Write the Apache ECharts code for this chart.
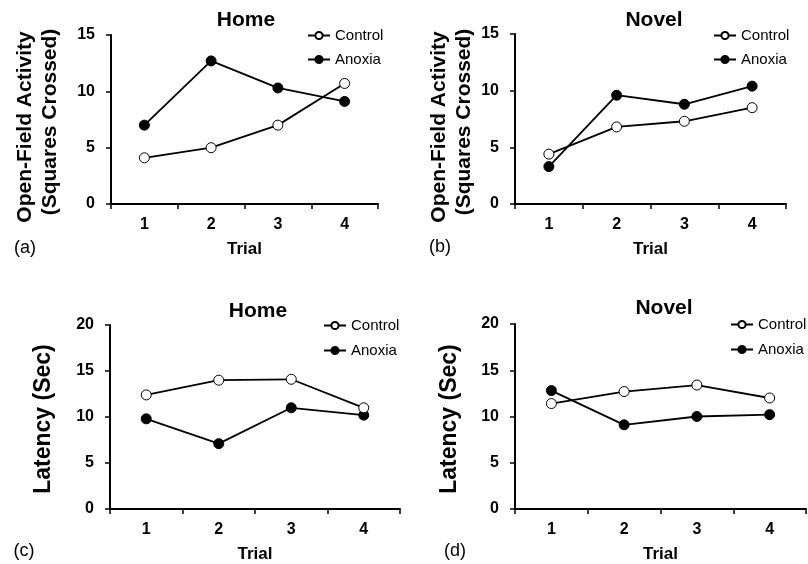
<!DOCTYPE html>
<html>
<head>
<meta charset="utf-8">
<script src="https://cdn.jsdelivr.net/npm/echarts@6/dist/echarts.min.js"></script>
<style>
html,body{margin:0;padding:0;background:#fff;}
#chart{width:808px;height:564px;}
</style>
</head>
<body>
<div id="chart"></div>
<script>
// ---- data ----
var trials = ['1', '2', '3', '4'];
var seriesNames = ['Control', 'Anoxia'];
var homeActivityControl = [4.1, 5.0, 7.0, 10.7];
var homeActivityAnoxia = [7.0, 12.7, 10.3, 9.1];
var novelActivityControl = [4.4, 6.8, 7.3, 8.5];
var novelActivityAnoxia = [3.3, 9.6, 8.8, 10.4];
var homeLatencyControl = [12.4, 14.0, 14.1, 11.0];
var homeLatencyAnoxia = [9.8, 7.1, 11.0, 10.2];
var novelLatencyControl = [11.4, 12.7, 13.4, 12.0];
var novelLatencyAnoxia = [12.8, 9.1, 10.0, 10.2];
var activityAxis = {min: 0, max: 15, interval: 5};
var latencyAxis = {min: 0, max: 20, interval: 5};
var panelTitles = ['Home', 'Novel', 'Home', 'Novel'];
var panelLetters = ['(a)', '(b)', '(c)', '(d)'];
var activityName = ['Open-Field Activity', '(Squares Crossed)'];
var latencyName = 'Latency (Sec)';
var xName = 'Trial';

// ---- layout / style ----
var FONT = '"Liberation Sans", Arial, Helvetica, sans-serif';
var grids = [
  {left: 111, top: 35, width: 267, height: 169},
  {left: 515, top: 34, width: 271, height: 170},
  {left: 110, top: 325, width: 290, height: 184},
  {left: 515, top: 324, width: 291, height: 185}
];
var legendPos = [
  {left: 307, top: 28, gap: 9},
  {left: 713, top: 28, gap: 9},
  {left: 323, top: 318, gap: 10},
  {left: 730, top: 317, gap: 10}
];
var panelData = [
  [homeActivityControl, homeActivityAnoxia],
  [novelActivityControl, novelActivityAnoxia],
  [homeLatencyControl, homeLatencyAnoxia],
  [novelLatencyControl, novelLatencyAnoxia]
];
var yScales = [activityAxis, activityAxis, latencyAxis, latencyAxis];

var xAxes = [], yAxes = [], series = [], legends = [];
for (var i = 0; i < 4; i++) {
  xAxes.push({
    type: 'category', gridIndex: i, data: trials, boundaryGap: true,
    name: xName, nameLocation: 'middle', nameGap: 37,
    nameTextStyle: {fontFamily: FONT, fontWeight: 'bold', fontSize: 17, color: '#000'},
    axisLine: {lineStyle: {color: '#000', width: 2}},
    axisTick: {show: true, length: 5, lineStyle: {color: '#000', width: 1.5}},
    axisLabel: {fontFamily: FONT, fontWeight: 'bold', fontSize: 16, color: '#000', margin: 13},
    splitLine: {show: false}
  });
  yAxes.push({
    type: 'value', gridIndex: i,
    min: yScales[i].min, max: yScales[i].max, interval: yScales[i].interval,
    axisLine: {show: true, lineStyle: {color: '#000', width: 2}},
    axisTick: {show: true, length: 5, lineStyle: {color: '#000', width: 1.5}},
    axisLabel: {fontFamily: FONT, fontWeight: 'bold', fontSize: 16, color: '#000', margin: 16},
    splitLine: {show: false}
  });
  for (var s = 0; s < 2; s++) {
    series.push({
      type: 'line', name: seriesNames[s], xAxisIndex: i, yAxisIndex: i,
      data: panelData[i][s], symbol: 'circle', symbolSize: 10,
      lineStyle: {color: '#000', width: 1.8},
      itemStyle: s === 0 ? {color: '#fff', borderColor: '#000', borderWidth: 1} : {color: '#000', borderColor: '#000', borderWidth: 1},
      z: s === 0 ? 3 : 2,
      animation: false
    });
  }
  legends.push({
    orient: 'vertical', left: legendPos[i].left, top: legendPos[i].top,
    padding: 0,
    data: seriesNames, itemWidth: 22, itemHeight: 9, itemGap: legendPos[i].gap,
    selectedMode: false,
    textStyle: {fontFamily: FONT, fontSize: 15, color: '#000'}
  });
}

function txt(x, y, text, font, rot) {
  return {type: 'text', x: x, y: y, rotation: rot || 0, silent: true,
    style: {text: text, font: font, fill: '#000', align: 'center', verticalAlign: 'middle'}};
}
var titleFont = 'bold 21px ' + FONT;
var nameFont = 'bold 21px ' + FONT;
var letterFont = '18px ' + FONT;
var R = Math.PI / 2;
var graphics = [
  txt(246, 20, panelTitles[0], titleFont),
  txt(654, 20, panelTitles[1], titleFont),
  txt(258, 311, panelTitles[2], titleFont),
  txt(664, 308, panelTitles[3], titleFont),
  txt(25, 127, activityName[0], nameFont, R),
  txt(50, 122, activityName[1], nameFont, R),
  txt(439, 127, activityName[0], nameFont, R),
  txt(464, 122, activityName[1], nameFont, R),
  txt(44, 419, latencyName, 'bold 23px ' + FONT, R),
  txt(450, 419, latencyName, 'bold 23px ' + FONT, R),
  txt(25, 248, panelLetters[0], letterFont),
  txt(440, 247, panelLetters[1], letterFont),
  txt(24, 551, panelLetters[2], letterFont),
  txt(455, 551, panelLetters[3], letterFont)
];

var chart = echarts.init(document.getElementById('chart'), null, {renderer: 'canvas'});
chart.setOption({
  animation: false,
  backgroundColor: '#fff',
  grid: grids,
  xAxis: xAxes,
  yAxis: yAxes,
  legend: legends,
  series: series,
  graphic: graphics
});
</script>
</body>
</html>
